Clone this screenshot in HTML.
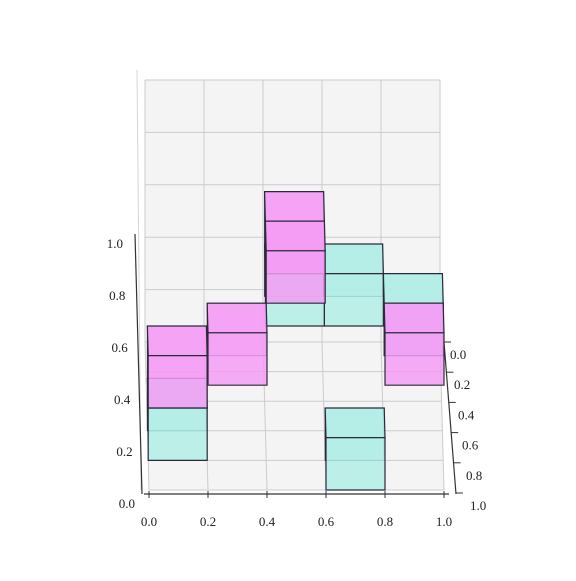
<!DOCTYPE html>
<html><head><meta charset="utf-8"><style>
html,body{margin:0;padding:0;background:#fff;}
svg text{font-family:"Liberation Serif",serif;font-size:13px;fill:#222;}
</style></head><body>
<svg id="chart" width="576" height="576" viewBox="0 0 576 576" xmlns="http://www.w3.org/2000/svg">
<g id="grid"></g>
<g id="boxes"></g>
<g id="axes"></g>
</svg>
<script>
const voxX = [0.0, 0.0, 0.2, 0.4, 0.4, 0.4, 0.6, 0.6, 0.8, 0.8];
const voxY = [0.6, 0.6, 0.8, 0.4, 0.6, 0.4, 0.4, 0.8, 0.6, 0.8];
const voxZ = [0.0, 0.2, 0.4, 0.4, 0.6, 0.6, 0.4, 0.0, 0.4, 0.4];
const voxSeries = ["cyan","magenta","magenta","cyan","magenta","magenta","cyan","cyan","cyan","magenta"];
const xTicks = ["0.0","0.2","0.4","0.6","0.8","1.0"];
const yTicks = ["0.0","0.2","0.4","0.6","0.8","1.0"];
const zTicks = ["0.0","0.2","0.4","0.6","0.8","1.0"];
const SZ = 0.2;

const NS = "http://www.w3.org/2000/svg";
function sx(X,Y,Z){ return 145 + X*295 + Y*4; }
function sy(X,Y,Z){ return 342 + Y*148 - Z*262; }
function pt(X,Y,Z){ return sx(X,Y,Z).toFixed(1)+","+sy(X,Y,Z).toFixed(1); }
function mk(tag, attrs, parent){ const e=document.createElementNS(NS,tag); for(const k in attrs) e.setAttribute(k,attrs[k]); parent.appendChild(e); return e; }

const grid = document.getElementById('grid');
const vals = [0,0.2,0.4,0.6,0.8,1.0];
const pane1 = mk('polygon',{points:[pt(0,0,0),pt(1,0,0),pt(1,0,1),pt(0,0,1)].join(' '),fill:'#f4f4f4'},grid);


const pane2 = mk('polygon',{points:[pt(0,0,0),pt(1,0,0),pt(1,1,0),pt(0,1,0)].join(' '),fill:'#f4f4f4'},grid);


vals.forEach((v,i)=>{
  const l1 = mk('line',{x1:sx(v,0,0),y1:sy(v,0,0),x2:sx(v,1,0),y2:sy(v,1,0),stroke:'#cbcbd0','stroke-width':1},grid);
  
  
  const l2 = mk('line',{x1:sx(0,v,0),y1:sy(0,v,0),x2:sx(1,v,0),y2:sy(1,v,0),stroke:'#cbcbd0','stroke-width':1},grid);
  
  
  const l3 = mk('line',{x1:sx(v,0,0),y1:sy(v,0,0),x2:sx(v,0,1),y2:sy(v,0,1),stroke:'#cbcbd0','stroke-width':1},grid);
  
  
  const l4 = mk('line',{x1:sx(0,0,v),y1:sy(0,0,v),x2:sx(1,0,v),y2:sy(1,0,v),stroke:'#cbcbd0','stroke-width':1},grid);
  
  
});
const lw = mk('line',{x1:sx(0,1,0)-8,y1:sy(0,1,0),x2:sx(0,0,1)-8,y2:sy(0,0,1)-10,stroke:'#d6d6da','stroke-width':1},grid);



const fills = {cyan:'#b0ede5', magenta:'#f59cf5'};
const order = voxX.map((_,i)=>i).sort((a,b)=>(voxY[a]+voxZ[a])-(voxY[b]+voxZ[b]));
const boxes = document.getElementById('boxes');
order.forEach(i=>{
  const x=voxX[i], y=voxY[i], z=voxZ[i], f=fills[voxSeries[i]];
  const g = mk('g',{},boxes);
  
  
  const back = mk('polygon',{points:[pt(x,y,z),pt(x+SZ,y,z),pt(x+SZ,y,z+SZ),pt(x,y,z+SZ)].join(' '),fill:f,'fill-opacity':0.5,stroke:'#2a2a3a','stroke-width':1},g);
  
  
  const top = mk('polygon',{points:[pt(x,y,z+SZ),pt(x+SZ,y,z+SZ),pt(x+SZ,y+SZ,z+SZ),pt(x,y+SZ,z+SZ)].join(' '),fill:f,'fill-opacity':0.85,stroke:'#2a2a3a','stroke-width':1.2},g);
  
  
  const front = mk('polygon',{points:[pt(x,y+SZ,z),pt(x+SZ,y+SZ,z),pt(x+SZ,y+SZ,z+SZ),pt(x,y+SZ,z+SZ)].join(' '),fill:f,'fill-opacity':0.85,stroke:'#2a2a3a','stroke-width':1.2},g);
  
  
});

const axes = document.getElementById('axes');
const xa = mk('line',{x1:sx(0,1,0)-5,y1:sy(0,1,0)+4,x2:sx(1,1,0)+5,y2:sy(1,1,0)+4,stroke:'#333','stroke-width':1.2},axes);


xTicks.forEach((t,i)=>{
  const v=vals[i];
  const tk = mk('line',{x1:sx(v,1,0),y1:sy(v,1,0)+1,x2:sx(v,1,0),y2:sy(v,1,0)+8,stroke:'#333'},axes);
  
  
  const tx = mk('text',{x:sx(v,1,0),y:sy(v,1,0)+36,'text-anchor':'middle'},axes);
  tx.textContent=t;
  
  
});
const ya = mk('line',{x1:sx(1,0,0)+4,y1:sy(1,0,0),x2:sx(1,1,0)+12,y2:sy(1,1,0)+4,stroke:'#333','stroke-width':1.2},axes);


yTicks.forEach((t,i)=>{
  const v=vals[i];
  const tk = mk('line',{x1:sx(1,v,0)+4+v*8,y1:sy(1,v,0)+v*3,x2:sx(1,v,0)+11+v*8,y2:sy(1,v,0)+v*3,stroke:'#333'},axes);
  
  
  const tx = mk('text',{x:sx(1,v,0)+10+v*16,y:sy(1,v,0)+17+v*3},axes);
  tx.textContent=t;
  
  
});
const za = mk('line',{x1:sx(0,1,0)-7,y1:sy(0,1,0)+4,x2:sx(0,1,0)-14,y2:sy(0,1,1)+6,stroke:'#333','stroke-width':1.2},axes);


zTicks.forEach((t,i)=>{
  const v=vals[i];
  const tx = mk('text',{x:sx(0,1,0)-14-v*12,y:sy(0,1,v)+18+v*2,'text-anchor':'end'},axes);
  tx.textContent=t;
  
  
});
</script>
</body></html>
